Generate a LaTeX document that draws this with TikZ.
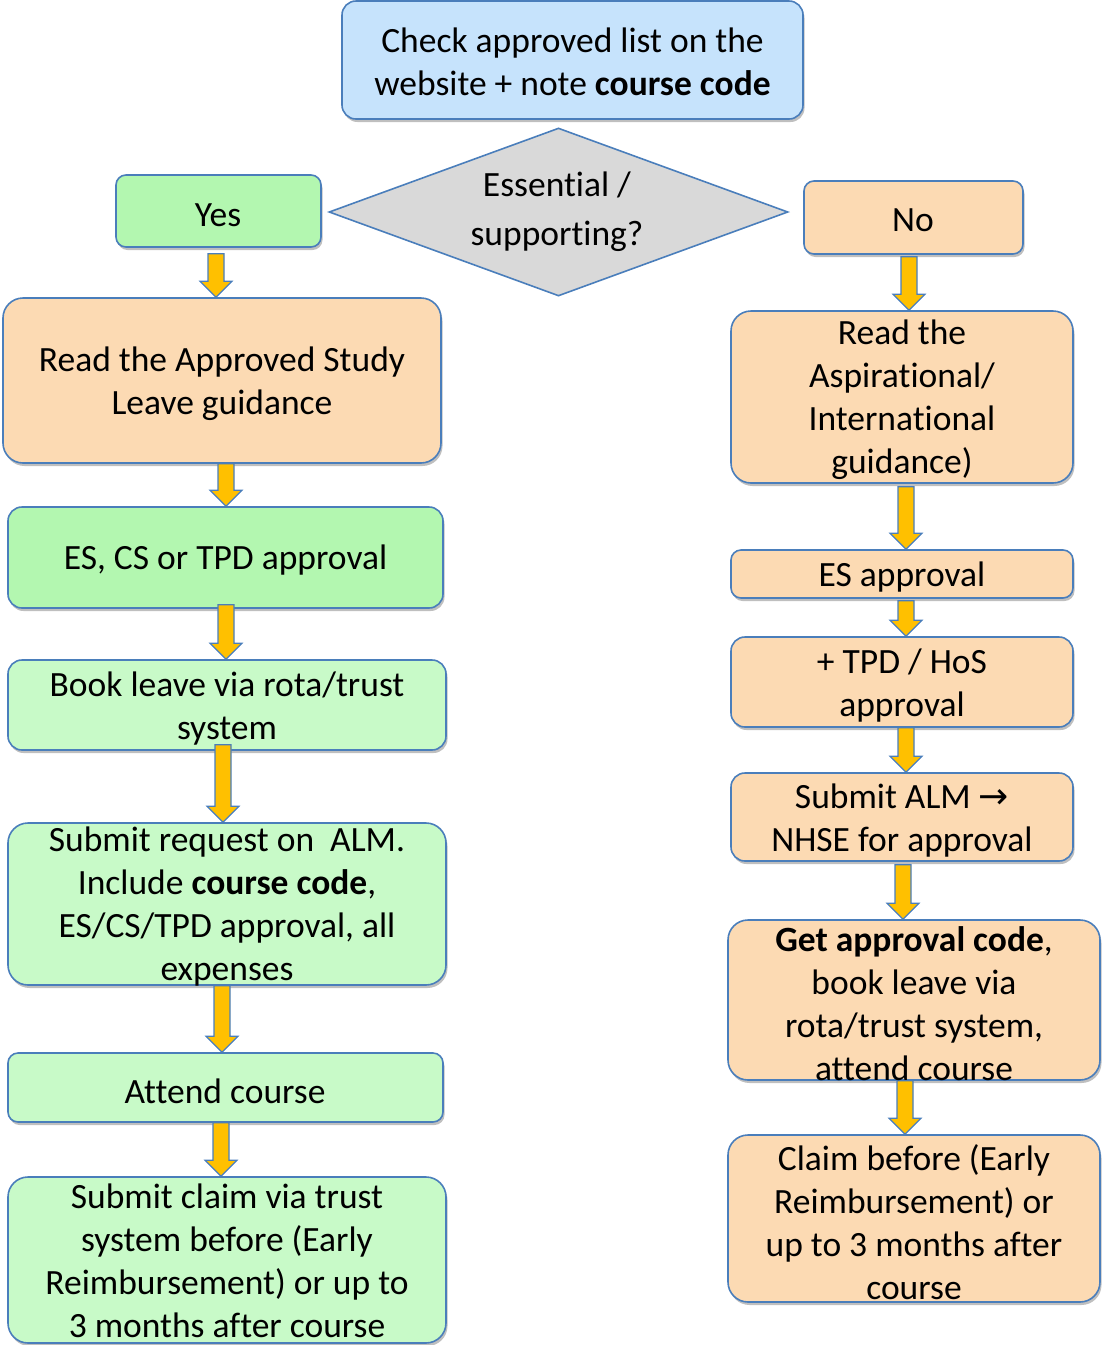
\documentclass[tikz,border=0pt]{standalone}
\usepackage{fontspec}
\setmainfont{Carlito}[Ligatures={NoCommon}]
\newfontfamily\dejavu{DejaVu Sans}
\usetikzlibrary{calc,shadows,shapes.geometric}
\definecolor{bord}{HTML}{4A7EBB}
\definecolor{peach}{HTML}{FCDAB3}
\definecolor{greenA}{HTML}{B3F7B0}
\definecolor{greenB}{HTML}{C8FAC8}
\definecolor{skyblue}{HTML}{C6E3FC}
\definecolor{greyd}{HTML}{D9D9D9}
\definecolor{arrowyellow}{HTML}{FFC000}
\tikzset{
  box/.style={draw=bord, line width=1.6pt, rounded corners=14pt, inner sep=0pt,
    drop shadow={shadow xshift=1.5pt, shadow yshift=-3pt, opacity=0.25, fill=black}},
  txt/.style={align=center, font=\fontsize{35.5}{43}\selectfont, inner sep=0pt, yshift=-2pt},
  barrowstyle/.style={draw=bord, line width=1.2pt, fill=arrowyellow, line join=miter},
}
\newcommand{\flowarrow}[4][0]{%
  \path[barrowstyle] let \p1=(#2.south), \p2=(#3.north) in
    ({#4*1pt-8pt},{\y1-#1*1pt}) -- ({#4*1pt+8pt},{\y1-#1*1pt}) --
    ({#4*1pt+8pt},{\y2+16pt}) -- ({#4*1pt+16pt},{\y2+16pt}) --
    ({#4*1pt},\y2) -- ({#4*1pt-16pt},{\y2+16pt}) --
    ({#4*1pt-8pt},{\y2+16pt}) -- cycle;}
\begin{document}
\begin{tikzpicture}[x=1pt,y=-1pt]
\useasboundingbox (0,0) rectangle (1103,1345);
% boxes
\node[box, fill=skyblue, minimum width=461pt, minimum height=118pt] (top) at (572.5,60) {};
\node[diamond, draw=bord, line width=1.6pt, fill=greyd, minimum width=459pt, minimum height=168pt, inner sep=0pt] (dec) at (558.5,212) {};
\node[box, fill=greenA, minimum width=205pt, minimum height=72pt, rounded corners=10pt] (yes) at (218.5,211) {};
\node[box, fill=peach, minimum width=219pt, minimum height=73pt, rounded corners=10pt] (no) at (913.5,217.5) {};
\node[box, fill=peach, minimum width=438pt, minimum height=165pt, rounded corners=20pt] (readL) at (222,380.5) {};
\node[box, fill=greenA, minimum width=435pt, minimum height=101pt] (escs) at (225.5,557.5) {};
\node[box, fill=greenB, minimum width=438pt, minimum height=90pt] (book) at (227,705) {};
\node[box, fill=greenB, minimum width=438pt, minimum height=162pt, rounded corners=20pt] (subreq) at (227,904) {};
\node[box, fill=greenB, minimum width=435pt, minimum height=69pt, rounded corners=10pt] (attend) at (225.5,1087.5) {};
\node[box, fill=greenB, minimum width=438pt, minimum height=166pt, rounded corners=20pt] (claimL) at (227,1260) {};
\node[box, fill=peach, minimum width=342pt, minimum height=172pt, rounded corners=20pt] (readR) at (902,397) {};
\node[box, fill=peach, minimum width=342pt, minimum height=48pt, rounded corners=10pt] (esR) at (902,574) {};
\node[box, fill=peach, minimum width=342pt, minimum height=90pt] (tpd) at (902,682) {};
\node[box, fill=peach, minimum width=342pt, minimum height=88pt] (alm) at (902,817) {};
\node[box, fill=peach, minimum width=372pt, minimum height=160pt, rounded corners=20pt] (getc) at (914,1000) {};
\node[box, fill=peach, minimum width=372pt, minimum height=167pt, rounded corners=20pt] (claimR) at (914,1218.5) {};
% arrows
\flowarrow[6]{yes}{readL}{216}
\flowarrow{readL}{escs}{226}
\flowarrow[-4]{escs}{book}{226}
\flowarrow[-6]{book}{subreq}{223}
\flowarrow{subreq}{attend}{222}
\flowarrow{attend}{claimL}{221}
\flowarrow[2]{no}{readR}{909}
\flowarrow[3]{readR}{esR}{906}
\flowarrow[2]{esR}{tpd}{906}
\flowarrow{tpd}{alm}{906}
\flowarrow[3]{alm}{getc}{903}
\flowarrow{getc}{claimR}{905}
% texts
\node[txt] (top-t) at (572.5,60) {Check approved list on the\\website + note \textbf{course code}};
\node[txt, font=\fontsize{35.5}{49}\selectfont] (dec-t) at (557,210) {Essential /\\supporting?};
\node[txt] (yes-t) at (218,213) {Yes};
\node[txt] (no-t) at (913,218) {No};
\node[txt] (readL-t) at (222,382) {Read the Approved Study\\Leave guidance};
\node[txt] (escs-t) at (225.5,558) {ES, CS or TPD approval};
\node[txt] (book-t) at (227,707) {Book leave via rota/trust\\system};
\node[txt] (subreq-t) at (227,905) {Submit request on\ \ ALM.\\Include \textbf{course code},\\ES/CS/TPD approval, all\\expenses};
\node[txt] (attend-t) at (225,1089) {Attend course};
\node[txt] (claimL-t) at (227,1259) {Submit claim via trust\\system before (Early\\Reimbursement) or up to\\3 months after course};
\node[txt] (readR-t) at (902,398) {Read the\\Aspirational/\\International\\guidance)};
\node[txt] (esR-t) at (902,575) {ES approval};
\node[txt] (tpd-t) at (902,684) {+ TPD / HoS\\approval};
\node[txt] (alm-t) at (902,819) {Submit ALM {\dejavu\fontsize{36}{43}\selectfont →}\\NHSE for approval};
\node[txt] (getc-t) at (914,1002) {\textbf{Get approval code},\\book leave via\\rota/trust system,\\attend course};
\node[txt] (claimR-t) at (914,1220) {Claim before (Early\\Reimbursement) or\\up to 3 months after\\course};
\end{tikzpicture}
\end{document}
